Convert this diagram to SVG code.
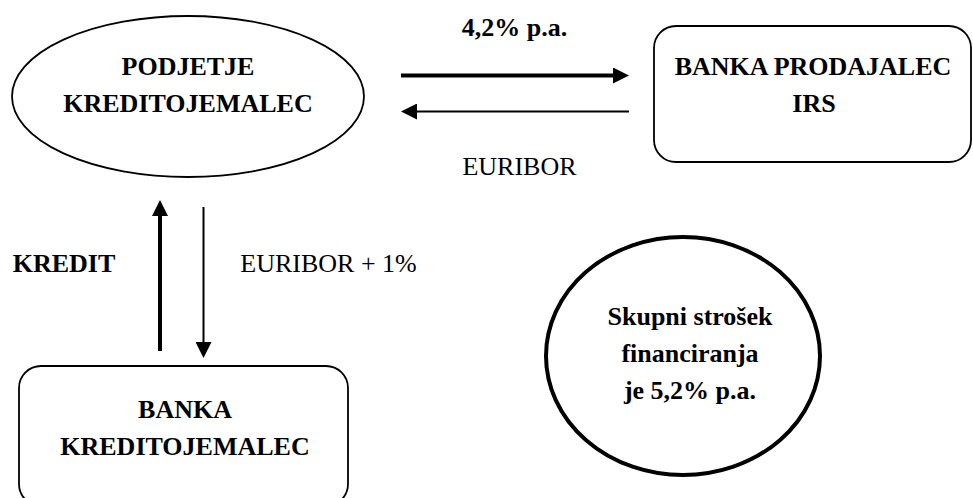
<svg xmlns="http://www.w3.org/2000/svg" width="973" height="498" viewBox="0 0 973 498">
<style>
text{font-family:'Liberation Serif','Times New Roman',serif;font-size:26px;fill:#000;text-anchor:middle}
.b{font-weight:bold}
.shape{fill:#fff;stroke:#000;stroke-width:1.8}
.thick{stroke:#000;stroke-width:4;fill:none}
.thin{stroke:#000;stroke-width:2;fill:none}
</style>
<defs>
<marker id="ah" viewBox="0 0 16 16" refX="0" refY="8" markerWidth="16" markerHeight="16" markerUnits="userSpaceOnUse" orient="auto">
<path d="M0,0 L16,8 L0,16 Z" fill="#000"/>
</marker>
</defs>
<rect width="973" height="498" fill="#fff"/>
<g id="podjetje">
<ellipse class="shape" cx="188" cy="96.5" rx="176" ry="80.5"/>
<text class="b" x="188" y="75">PODJETJE</text>
<text class="b" x="188" y="112">KREDITOJEMALEC</text>
</g>
<g id="banka-irs">
<rect class="shape" x="654" y="26" width="317" height="136" rx="22" ry="22"/>
<text class="b" x="813" y="75">BANKA PRODAJALEC</text>
<text class="b" x="814" y="112">IRS</text>
</g>
<g id="banka-kred">
<rect class="shape" x="19" y="366" width="329" height="140" rx="22" ry="22"/>
<text class="b" x="185" y="418">BANKA</text>
<text class="b" x="185" y="455">KREDITOJEMALEC</text>
</g>
<g id="skupni">
<ellipse cx="683" cy="356" rx="137" ry="119" fill="#fff" stroke="#000" stroke-width="4"/>
<text class="b" x="690" y="325">Skupni strošek</text>
<text class="b" x="690" y="362">financiranja</text>
<text class="b" x="690" y="399">je 5,2% p.a.</text>
</g>
<g id="connectors">
<line class="thick" x1="401" y1="75.5" x2="613" y2="75.5" marker-end="url(#ah)"/>
<line class="thin" x1="629" y1="111.5" x2="417" y2="111.5" marker-end="url(#ah)"/>
<line class="thick" x1="160" y1="351" x2="160" y2="216" marker-end="url(#ah)"/>
<line class="thin" x1="203.5" y1="207" x2="203.5" y2="342" marker-end="url(#ah)"/>
</g>
<g id="labels">
<text class="b" x="514.5" y="36">4,2% p.a.</text>
<text x="519.5" y="175">EURIBOR</text>
<text class="b" x="64" y="272">KREDIT</text>
<text x="328.5" y="272">EURIBOR + 1%</text>
</g>
</svg>
